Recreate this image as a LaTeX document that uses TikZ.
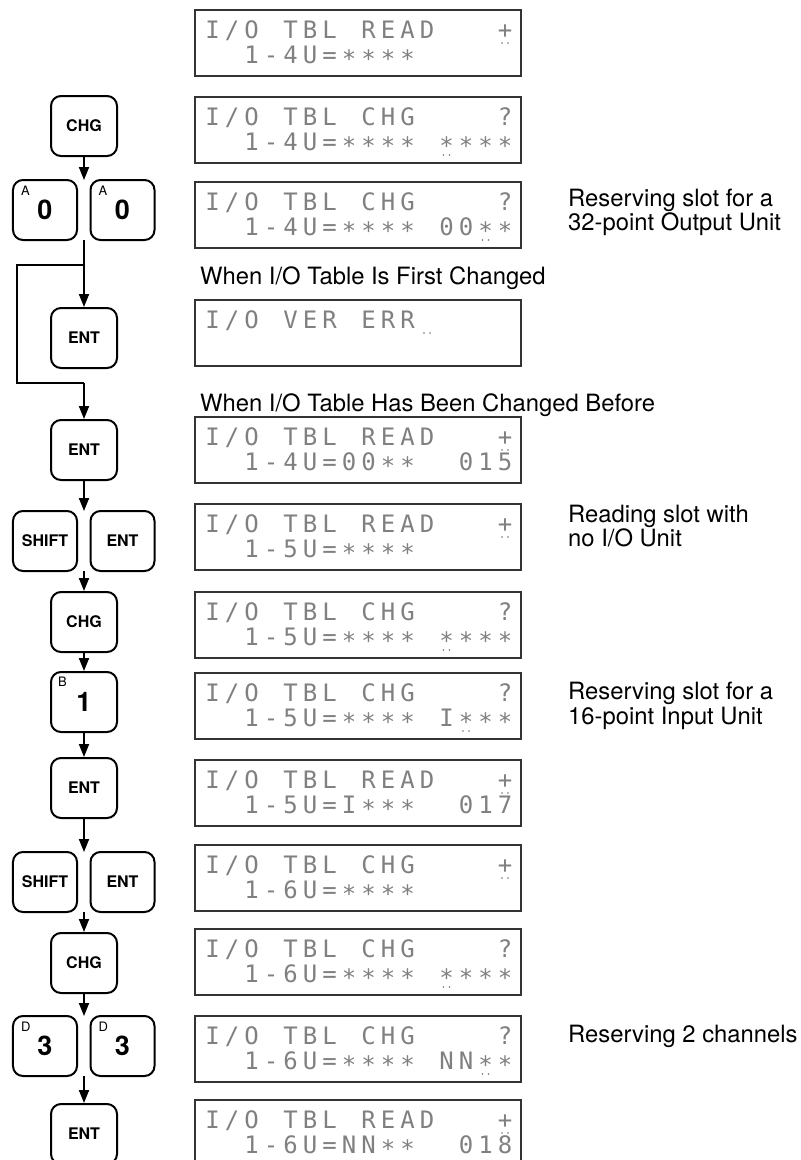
\documentclass[tikz,border=0pt]{standalone}
\usepackage{fontspec}
\setmainfont{TeX Gyre Heros}
\newfontfamily\lcdfont{DejaVu Sans Mono}
\usetikzlibrary{arrows.meta}
\ExplSyntaxOn
\NewDocumentCommand\lcdtext{m}{\str_map_inline:nn {#1} {\makebox[19.5bp]{\str_case:nnF {##1}{{.}{}{*}{\raisebox{-4.5bp}{*}}}{##1}}}}
\ExplSyntaxOff
\tikzset{
  keybox/.style={draw, line width=2bp, rounded corners=10bp, minimum width=66bp, minimum height=60bp, inner sep=0pt, font=\fontsize{16bp}{17bp}\selectfont\bfseries},
  pkeybox/.style={keybox, minimum width=64bp},
  digitfont/.style={font=\fontsize{27bp}{27bp}\selectfont\bfseries},
  keysup/.style={anchor=north west, inner sep=0pt, font=\fontsize{13bp}{13bp}\selectfont},
  lcdbox/.style={draw=black!80, line width=1.5bp, minimum width=326bp, minimum height=66bp, inner sep=0pt},
  lcdtxt/.style={anchor=base west, inner sep=0pt, text=black!50, font=\lcdfont\fontsize{24bp}{24bp}\selectfont},
  anntxt/.style={anchor=base west, inner sep=0pt, font=\fontsize{23.8bp}{24bp}\selectfont},
  arr/.style={-{Triangle[length=13bp,width=10bp]}, line width=1.8bp},
  conn/.style={line width=1.8bp},
}
\newcommand\lcd[4]{%
  \node[lcdbox] (#1) at (358,#2+33) {};
  \node[lcdtxt] (#1a) at (202.75,#2+28) {\lcdtext{#3}};
  \node[lcdtxt] (#1b) at (202.75,#2+53) {\lcdtext{#4}};
}
\newcommand\cur[3]{% top, column, baseline offset
  \fill[black!55] ({212.5+19.5*#2-3},{#1+#3+5}) circle[radius=0.9bp]
                  ({212.5+19.5*#2+3},{#1+#3+5}) circle[radius=0.9bp];
}
\begin{document}
\begin{tikzpicture}[x=1bp,y=-1bp]
\useasboundingbox (0,0) rectangle (801,1160);
\clip (0,0) rectangle (801,1160);

% displays
\lcd{d1}{10}{I/O.TBL.READ...+}{..1-4U=****}
\lcd{d2}{97}{I/O.TBL.CHG....?}{..1-4U=****.****}
\lcd{d3}{182}{I/O.TBL.CHG....?}{..1-4U=****.00**}
\lcd{d4}{300}{I/O.VER.ERR}{}
\lcd{d5}{417}{I/O.TBL.READ...+}{..1-4U=00**..015}
\lcd{d6}{504}{I/O.TBL.READ...+}{..1-5U=****}
\lcd{d7}{592}{I/O.TBL.CHG....?}{..1-5U=****.****}
\lcd{d8}{673}{I/O.TBL.CHG....?}{..1-5U=****.I***}
\lcd{d9}{760}{I/O.TBL.READ...+}{..1-5U=I***..017}
\lcd{d10}{845}{I/O.TBL.CHG....+}{..1-6U=****}
\lcd{d11}{929}{I/O.TBL.CHG....?}{..1-6U=****.****}
\lcd{d12}{1016}{I/O.TBL.CHG....?}{..1-6U=****.NN**}
\lcd{d13}{1100}{I/O.TBL.READ...+}{..1-6U=NN**..018}

% cursors
\cur{10}{15}{28}
\cur{97}{12}{53}
\cur{182}{14}{53}
\cur{300}{11}{28}
\cur{417}{15}{28}
\cur{504}{15}{28}
\cur{592}{12}{53}
\cur{673}{13}{53}
\cur{760}{15}{28}
\cur{845}{15}{28}
\cur{929}{12}{53}
\cur{1016}{14}{53}
\cur{1100}{15}{28}

% annotations
\node[anntxt] (a1) at (568,206) {Reserving slot for a};
\node[anntxt] (a2) at (568,230) {32-point Output Unit};
\node[anntxt] (w1) at (200,284) {When I/O Table Is First Changed};
\node[anntxt] (w2) at (200,411) {When I/O Table Has Been Changed Before};
\node[anntxt] (a3) at (568,522) {Reading slot with};
\node[anntxt] (a4) at (568,546) {no I/O Unit};
\node[anntxt] (a5) at (568,699) {Reserving slot for a};
\node[anntxt] (a6) at (568,724) {16-point Input Unit};
\node[anntxt] (a7) at (568,1042) {Reserving 2 channels};

% keys
\node[keybox] (k1) at (84,126) {CHG};
\node[pkeybox, digitfont] (k2a) at (45,210) {0};
\node[pkeybox, digitfont] (k2b) at (122.5,210) {0};
\node[keysup] (k2al) at ([shift={(9,7)}]k2a.north west) {A};
\node[keysup] (k2bl) at ([shift={(9,7)}]k2b.north west) {A};
\node[keybox] (k3) at (84,338) {ENT};
\node[keybox] (k4) at (84,450) {ENT};
\node[pkeybox] (k5a) at (45,541) {SHIFT};
\node[pkeybox] (k5b) at (122.5,541) {ENT};
\node[keybox] (k6) at (84,622) {CHG};
\node[keybox, digitfont] (k7) at (84,702) {1};
\node[keysup] (k7l) at ([shift={(8,6)}]k7.north west) {B};
\node[keybox] (k8) at (84,788) {ENT};
\node[pkeybox] (k9a) at (45,882) {SHIFT};
\node[pkeybox] (k9b) at (122.5,882) {ENT};
\node[keybox] (k10) at (84,963) {CHG};
\node[pkeybox, digitfont] (k11a) at (45,1046) {3};
\node[pkeybox, digitfont] (k11b) at (122.5,1046) {3};
\node[keysup] (k11al) at ([shift={(9,7)}]k11a.north west) {D};
\node[keysup] (k11bl) at ([shift={(9,7)}]k11b.north west) {D};
\node[keybox] (k12) at (84,1134) {ENT};

% connector points
\coordinate (p2t) at (84,180);
\coordinate (p2b) at (84,240);
\coordinate (j1) at (84,265);
\coordinate (j2) at (17,265);
\coordinate (j3) at (17,383);
\coordinate (j4) at (84,383);
\coordinate (p5t) at (84,511);
\coordinate (p5b) at (84,571);
\coordinate (p9t) at (84,852);
\coordinate (p9b) at (84,912);
\coordinate (p11t) at (84,1016);
\coordinate (p11b) at (84,1076);

% connectors
\draw[arr] (k1.south) -- (p2t);
\draw[arr] (p2b) -- (k3.north);
\draw[conn] (j1) -- (j2) -- (j3) -- (j4);
\draw[arr] (j4) -- (k4.north);
\draw[arr] (k4.south) -- (p5t);
\draw[arr] (p5b) -- (k6.north);
\draw[arr] (k6.south) -- (k7.north);
\draw[arr] (k7.south) -- (k8.north);
\draw[arr] (k8.south) -- (p9t);
\draw[arr] (p9b) -- (k10.north);
\draw[arr] (k10.south) -- (p11t);
\draw[arr] (p11b) -- (k12.north);
\end{tikzpicture}
\end{document}
